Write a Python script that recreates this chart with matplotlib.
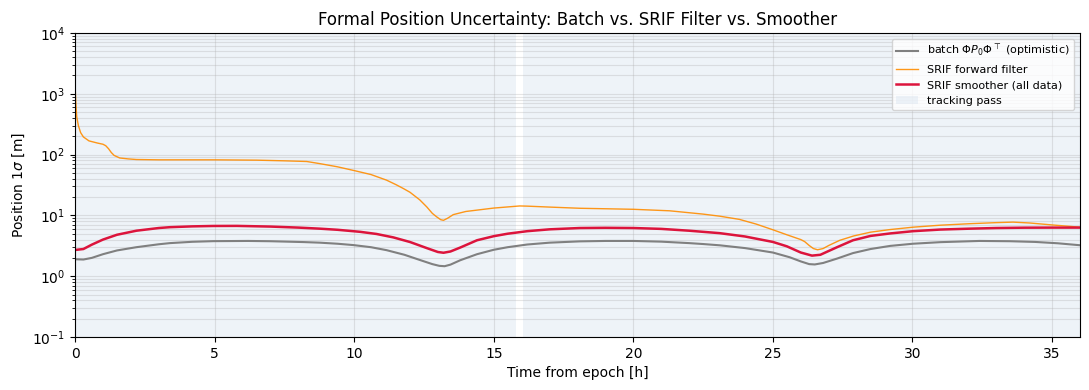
import matplotlib
matplotlib.use("Agg")
import matplotlib.pyplot as plt

# tracking passes [h]
pass_start = [0.0, 16.05]
pass_end = [15.8, 36.0]

# batch Phi P0 Phi^T
t_batch = [0.0, 0.3, 0.6, 1.0, 1.5, 2.2, 3.0, 3.4, 4.2, 4.95, 6.2, 7.0, 7.6, 8.2, 8.77, 9.4,
           9.97, 10.6, 11.16, 11.8, 12.35, 12.8, 13.05, 13.24, 13.45, 13.8, 14.4, 15.0, 15.5,
           16.2, 17.0, 18.08, 19.0, 20.0, 21.0, 22.0, 22.5, 23.1, 24.0, 25.0, 25.6, 26.0, 26.3,
           26.5, 26.8, 27.3, 27.87, 28.5, 29.2, 30.02, 31.0, 32.4, 33.5, 34.4, 35.2, 36.0]
v_batch = [1.90, 1.88, 2.0, 2.3, 2.65, 3.0, 3.35, 3.5, 3.68, 3.77, 3.8, 3.76, 3.7, 3.64, 3.56,
           3.42, 3.25, 3.0, 2.68, 2.25, 1.85, 1.58, 1.48, 1.46, 1.55, 1.83, 2.3, 2.72, 3.0,
           3.32, 3.56, 3.74, 3.8, 3.8, 3.7, 3.5, 3.38, 3.22, 2.9, 2.45, 2.05, 1.75, 1.58,
           1.56, 1.65, 1.95, 2.4, 2.8, 3.15, 3.42, 3.63, 3.8, 3.76, 3.66, 3.48, 3.23]

# SRIF forward filter
t_filt = [0.0, 0.03, 0.06, 0.12, 0.2, 0.3, 0.5, 0.8, 1.0, 1.1, 1.2, 1.3, 1.4, 1.6, 1.9, 2.2,
          3.0, 5.0, 6.5, 7.5, 8.3, 8.77, 9.4, 9.97, 10.6, 11.16, 11.5, 11.76, 12.0, 12.35,
          12.6, 12.8, 12.95, 13.1, 13.2, 13.35, 13.55, 14.0, 15.0, 15.93, 16.2, 17.0, 18.08,
          20.0, 21.3, 22.5, 23.1, 23.8, 24.4, 25.0, 25.5, 26.0, 26.14, 26.3, 26.45, 26.6,
          26.8, 27.0, 27.4, 27.9, 28.5, 29.2, 30.02, 31.0, 32.05, 33.0, 33.6, 34.2, 35.03, 36.0]
v_filt = [1400, 700, 420, 300, 230, 195, 168, 155, 148, 140, 125, 108, 97, 88, 85, 83,
          82, 82, 81, 79, 77, 71, 63, 55, 47, 38, 32, 27.7, 24, 18,
          13.8, 10.8, 9.5, 8.5, 8.3, 9.0, 10.3, 11.6, 13.2, 14.3, 14.2, 13.7, 13.1,
          12.6, 11.9, 10.5, 9.7, 8.6, 7.2, 5.8, 4.8, 4.0, 3.7, 3.2, 2.85, 2.72,
          2.85, 3.2, 3.9, 4.6, 5.3, 5.85, 6.4, 6.9, 7.3, 7.6, 7.75, 7.5, 6.95, 6.4]

# SRIF smoother
t_smooth = [0.0, 0.3, 0.6, 1.0, 1.5, 2.2, 3.0, 3.4, 4.2, 4.95, 5.8, 7.0, 8.0, 8.77, 9.4,
            10.21, 10.8, 11.4, 12.0, 12.6, 13.0, 13.2, 13.45, 13.8, 14.4, 15.0, 15.5, 16.2,
            17.0, 18.08, 19.0, 20.0, 21.0, 22.0, 23.1, 24.0, 25.0, 25.5, 26.0, 26.4, 26.7,
            27.0, 27.3, 27.87, 28.5, 29.2, 30.02, 31.0, 32.05, 33.0, 34.0, 35.0, 36.0]
v_smooth = [2.7, 2.8, 3.3, 4.0, 4.8, 5.6, 6.2, 6.4, 6.6, 6.7, 6.72, 6.55, 6.3, 6.05, 5.8,
            5.37, 4.95, 4.35, 3.65, 2.9, 2.5, 2.43, 2.55, 2.96, 3.9, 4.55, 5.0, 5.5,
            5.9, 6.2, 6.25, 6.2, 6.0, 5.6, 5.1, 4.5, 3.66, 3.1, 2.45, 2.18, 2.25,
            2.6, 3.0, 3.9, 4.6, 5.05, 5.5, 5.85, 6.05, 6.2, 6.28, 6.3, 6.3]

fig = plt.figure(figsize=(10.89, 3.9), dpi=100)
ax = fig.add_axes([0.0689, 0.1359, 0.9228, 0.7795])

span_handle = None
for a, b in zip(pass_start, pass_end):
    h = ax.axvspan(a, b, color="#d5e2ee", alpha=0.4, lw=0, label="tracking pass")
    if span_handle is None:
        span_handle = h

l1, = ax.plot(t_batch, v_batch, color="gray", lw=1.5, label=r"batch $\Phi P_0 \Phi^\top$ (optimistic)")
l2, = ax.plot(t_filt, v_filt, color="darkorange", lw=1.0, alpha=0.9, label="SRIF forward filter")
l3, = ax.plot(t_smooth, v_smooth, color="crimson", lw=1.8, label="SRIF smoother (all data)")

ax.set_yscale("log")
ax.set_ylim(0.1, 1e4)
ax.set_xlim(0, 36)
ax.grid(True, which="both", color="#b0b0b0", alpha=0.33, lw=0.8)
ax.set_xlabel("Time from epoch [h]")
ax.set_ylabel(r"Position 1$\sigma$ [m]")
ax.set_title("Formal Position Uncertainty: Batch vs. SRIF Filter vs. Smoother")
ax.legend(handles=[l1, l2, l3, span_handle], loc="upper right", fontsize=8)

fig.savefig("out.png", dpi=100)
